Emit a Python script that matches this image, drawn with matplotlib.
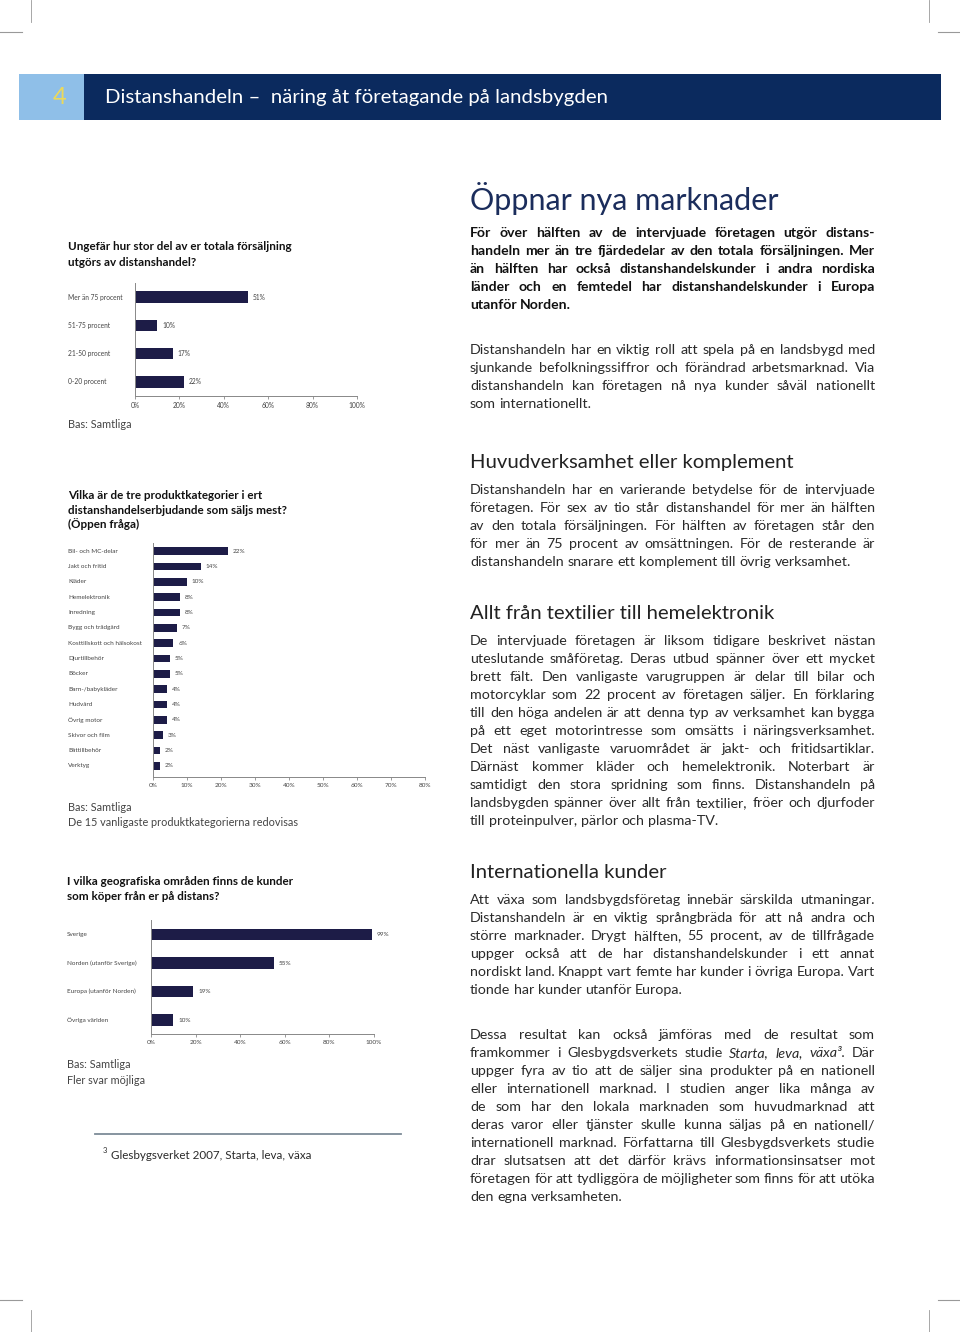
import numpy as np
import matplotlib
matplotlib.use("Agg")
import matplotlib.pyplot as plt
from matplotlib.patches import Rectangle
from matplotlib.lines import Line2D
from matplotlib.transforms import blended_transform_factory

# --- chart data ---
share_cats = ["Mer än 75 procent", "51-75 procent", "21-50 procent", "0-20 procent"]
share_vals = [51, 10, 17, 22]

prod_cats = ["Bil- och MC-delar", "Jakt och fritid", "Kläder", "Hemelektronik", "Inredning",
             "Bygg och trädgård", "Kosttillskott och hälsokost", "Djurtillbehör", "Böcker",
             "Barn-/babykläder", "Hudvård", "Övrig motor", "Skivor och film", "Båttillbehör", "Verktyg"]
prod_vals = [22, 14, 10, 8, 8, 7, 6, 5, 5, 4, 4, 4, 3, 2, 2]

geo_cats = ["Sverige", "Norden (utanför Sverige)", "Europa (utanför Norden)", "Övriga världen"]
geo_vals = [99, 55, 19, 10]

# --- page text ---
lead = ["För över hälften av de intervjuade företagen utgör distans-",
        "handeln mer än tre fjärdedelar av den totala försäljningen. Mer",
        "än hälften har också distanshandelskunder i andra nordiska",
        "länder och en femtedel har distanshandelskunder i Europa",
        "utanför Norden."]
p1 = ["Distanshandeln har en viktig roll att spela på en landsbygd med",
      "sjunkande befolkningssiffror och förändrad arbetsmarknad. Via",
      "distanshandeln kan företagen nå nya kunder såväl nationellt",
      "som internationellt."]
p2 = ["Distanshandeln har en varierande betydelse för de intervjuade",
      "företagen. För sex av tio står distanshandel för mer än hälften",
      "av den totala försäljningen. För hälften av företagen står den",
      "för mer än 75 procent av omsättningen. För de resterande är",
      "distanshandeln snarare ett komplement till övrig verksamhet."]
p3 = ["De intervjuade företagen är  liksom tidigare beskrivet nästan",
      "uteslutande småföretag. Deras utbud spänner över ett mycket",
      "brett fält. Den vanligaste varugruppen är delar till bilar och",
      "motorcyklar som 22 procent av företagen säljer. En förklaring",
      "till den höga andelen är att denna typ av verksamhet kan bygga",
      "på ett eget motorintresse som omsätts i näringsverksamhet.",
      "Det näst vanligaste varuområdet är jakt- och fritidsartiklar.",
      "Därnäst kommer kläder och hemelektronik. Noterbart är",
      "samtidigt den stora spridning som finns. Distanshandeln på",
      "landsbygden spänner över allt från textilier, fröer och djurfoder",
      "till proteinpulver, pärlor och plasma-TV."]
p4 = ["Att växa som landsbygdsföretag innebär särskilda utmaningar.",
      "Distanshandeln är en viktig språngbräda för att nå andra och",
      "större marknader. Drygt hälften, 55 procent, av de tillfrågade",
      "uppger också att de har distanshandelskunder i ett annat",
      "nordiskt land. Knappt vart femte har kunder i övriga Europa. Vart",
      "tionde har kunder utanför Europa."]
p5 = ["Dessa resultat kan också jämföras med de resultat som",
      "framkommer i Glesbygdsverkets studie _Starta, _leva, _växa³.  Där",
      "uppger fyra av tio att de säljer sina produkter på en nationell",
      "eller internationell marknad. I studien anger lika många av",
      "de som har den lokala marknaden som huvudmarknad att",
      "deras varor eller tjänster skulle kunna säljas på en nationell/",
      "internationell marknad. Författarna till Glesbygdsverkets studie",
      "drar slutsatsen att det därför krävs informationsinsatser mot",
      "företagen för att tydliggöra de möjligheter som finns för att utöka",
      "den egna verksamheten."]

W, H = 960, 1332
BAR = "#1d1c47"
TXT = "#444444"
BODY = "#2a2a2a"
plt.rcParams['font.family'] = ['Lato', 'DejaVu Sans']

fig = plt.figure(figsize=(W / 100, H / 100), dpi=100)
renderer = fig.canvas.get_renderer()


def put(x, y, s, **kw):
    return fig.text(x / W, 1 - y / H, s, **kw)


def line(x0, y0, x1, y1, **kw):
    fig.add_artist(Line2D([x0 / W, x1 / W], [1 - y0 / H, 1 - y1 / H], transform=fig.transFigure, **kw))


def paragraph(lines, x0, y0, lh, width=405, **kw):
    for i, ln in enumerate(lines):
        y = y0 + i * lh
        words = [w for w in ln.split(' ') if w]
        objs = [put(x0, y, w.lstrip('_'), va='baseline',
                    style='italic' if w.startswith('_') else 'normal', **kw) for w in words]
        if i == len(lines) - 1:
            sp = put(0, y, 'a a', va='baseline', alpha=0, **kw)
            sa = put(0, y, 'aa', va='baseline', alpha=0, **kw)
            gap = sp.get_window_extent(renderer).width - sa.get_window_extent(renderer).width
        else:
            gap = None
        widths = [o.get_window_extent(renderer).width for o in objs]
        if gap is None:
            gap = (width - sum(widths)) / (len(objs) - 1)
        x = x0
        for o, w in zip(objs, widths):
            o.set_x(x / W)
            x += w + gap


# crop marks
for x in (31, 929):
    line(x, 0, x, 22, color="#999999", lw=0.6)
    line(x, 1310, x, 1332, color="#999999", lw=0.6)
for xa, xb in ((0, 22), (938, 960)):
    line(xa, 32, xb, 32, color="#999999", lw=0.8)
    line(xa, 1300, xb, 1300, color="#999999", lw=0.8)

# header band
fig.add_artist(Rectangle((19 / W, 1 - 120 / H), 65 / W, 46 / H, transform=fig.transFigure,
                         color="#8fbfe8", lw=0))
fig.add_artist(Rectangle((84 / W, 1 - 120 / H), 857 / W, 46 / H, transform=fig.transFigure,
                         color="#0b2a5e", lw=0))
put(60, 98, "4", color="#ecd95a", fontsize=17, ha='center', va='center')
put(105, 98, "Distanshandeln –  näring åt företagande på landsbygden", color="white",
    fontsize=14.7, va='center')

# right column
put(470, 210, "Öppnar nya marknader", color="#1b2d5c", fontsize=22, va='baseline')
paragraph(lead, 470, 237, 18, color="#111111", fontsize=10.1, fontweight='bold')
paragraph(p1, 470, 354, 18, color=BODY, fontsize=10.3)
put(470, 468, "Huvudverksamhet eller komplement", color="#222222", fontsize=14.6, va='baseline')
paragraph(p2, 470, 494, 18, color=BODY, fontsize=10.3)
put(470, 619, "Allt från textilier till hemelektronik", color="#222222", fontsize=14.6, va='baseline')
paragraph(p3, 470, 645, 18, color=BODY, fontsize=10.3)
put(470, 878, "Internationella kunder", color="#222222", fontsize=14.6, va='baseline')
paragraph(p4, 470, 904, 18, color=BODY, fontsize=10.3)
paragraph(p5, 470, 1039, 18, color=BODY, fontsize=10.3)


def hbar(x0, x1, y0, y1, cats, vals, xmax, step, bar_h, ylim, label_x, fs):
    ax = fig.add_axes([x0 / W, 1 - y1 / H, (x1 - x0) / W, (y1 - y0) / H])
    y = np.arange(len(cats))
    ax.barh(y, vals, height=bar_h, color=BAR)
    ax.set_xlim(0, xmax)
    ax.set_ylim(*ylim)
    ticks = np.arange(0, xmax + 1, step)
    ax.set_xticks(ticks)
    ax.set_xticklabels([f"{t}%" for t in ticks], fontsize=fs, color=TXT)
    ax.set_yticks([])
    for s in ("top", "right"):
        ax.spines[s].set_visible(False)
    for s in ("left", "bottom"):
        ax.spines[s].set_color("#888888")
        ax.spines[s].set_linewidth(0.7)
    ax.tick_params(axis='x', length=2.5, width=0.6, color="#888888", pad=2)
    ax.patch.set_alpha(0)
    tr = blended_transform_factory(fig.transFigure, ax.transData)
    for yi, c in zip(y, cats):
        ax.text(label_x / W, yi, c, transform=tr, va='center', ha='left', fontsize=fs, color=TXT)
    for yi, v in zip(y, vals):
        ax.annotate(f"{v}%", (v, yi), xytext=(3.5, 0), textcoords='offset points',
                    va='center', fontsize=fs, color=TXT)
    return ax


QS = 8.4  # question size
# chart 1
put(68, 250, "Ungefär hur stor del av er totala försäljning", fontsize=QS, fontweight='bold',
    color="#111111", va='baseline')
put(68, 266, "utgörs av distanshandel?", fontsize=QS, fontweight='bold', color="#111111", va='baseline')
hbar(135, 357, 283, 396, share_cats, share_vals, 100, 20, 0.4, (3.5, -0.5), 68, 4.8)
put(68, 428, "Bas: Samtliga", fontsize=7.8, color=TXT, va='baseline')

# chart 2
for i, s in enumerate(["Vilka är de tre produktkategorier i ert",
                       "distanshandelserbjudande som säljs mest?",
                       "(Öppen fråga)"]):
    put(68, 499 + i * 14.7, s, fontsize=QS, fontweight='bold', color="#111111", va='baseline')
hbar(153, 425, 543, 777, prod_cats, prod_vals, 80, 10, 0.5, (14.73, -0.54), 68, 4.55)
put(68, 811, "Bas: Samtliga", fontsize=7.8, color=TXT, va='baseline')
put(68, 826, "De 15 vanligaste produktkategorierna redovisas", fontsize=7.8, color=TXT, va='baseline')

# chart 3
put(67, 885, "I vilka geografiska områden finns de kunder", fontsize=QS, fontweight='bold',
    color="#111111", va='baseline')
put(67, 900, "som köper från er på distans?", fontsize=QS, fontweight='bold', color="#111111",
    va='baseline')
hbar(151, 374, 920, 1034, geo_cats, geo_vals, 100, 20, 0.41, (3.49, -0.51), 67, 4.6)
put(67, 1068, "Bas: Samtliga", fontsize=7.8, color=TXT, va='baseline')
put(67, 1084, "Fler svar möjliga", fontsize=7.8, color=TXT, va='baseline')

# footnote
line(95, 1134, 401, 1134, color="#7d8b97", lw=1.3)
put(103, 1153, "3", fontsize=5.5, color=BODY, va='baseline')
put(111, 1159, "Glesbygsverket 2007, Starta, leva, växa", fontsize=8.4, color=BODY, va='baseline')

fig.savefig("out.png", dpi=100, facecolor="white")
